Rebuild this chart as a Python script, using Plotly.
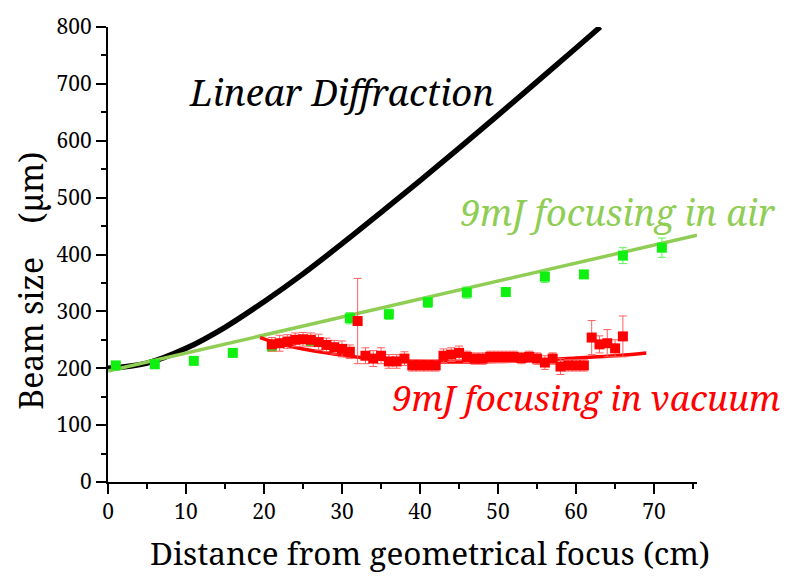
import plotly.graph_objects as go

# ---- data ----
diff_x = [0, 5, 10, 15, 20, 25, 30, 35, 40, 45, 50, 55, 60, 63.1]
diff_y = [200, 209, 235, 272, 317, 366, 419, 474, 530, 587, 645, 704, 763, 800]

air_x = [1, 6, 11, 16, 21, 26, 31, 36, 41, 46, 51, 56, 61, 66, 71]
air_y = [205, 207, 213, 227, 238, 248, 288, 295, 316, 333, 334, 361, 365, 398, 412]
air_err = [4, 4, 4, 4, 6, 7, 10, 9, 9, 10, 8, 10, 7, 14, 17]

air_fit_x = [0, 75.5]
air_fit_y = [195, 434]

vac_x = list(range(21, 67))
vac_y = [242, 244, 247, 250, 251, 250, 246, 241, 237, 234, 229, 283, 222, 217,
         222, 212, 212, 217, 205, 205, 205, 205, 222, 224, 227, 220, 217, 217,
         220, 220, 220, 220, 218, 220, 217, 210, 217, 203, 205, 205, 205, 254,
         242, 244, 235, 256]
vac_err = [12, 14, 12, 12, 12, 12, 14, 12, 12, 14, 12, 75, 14, 14,
           14, 12, 12, 12, 10, 10, 10, 10, 12, 12, 12, 10, 10, 10,
           10, 10, 10, 10, 10, 10, 10, 12, 10, 14, 10, 10, 10, 30,
           15, 24, 15, 36]

vac_fit_x = [19.5, 22, 25, 28, 31, 35, 40, 45, 50, 55, 60, 65, 69]
vac_fit_y = [254, 243, 234, 227, 221, 216, 212, 211, 212, 214, 218, 222, 227]

x_ticks = [0, 10, 20, 30, 40, 50, 60, 70]
y_ticks = [0, 100, 200, 300, 400, 500, 600, 700, 800]

GREEN_LINE = "#8fcd55"
GREEN_MK = "#10f010"
RED = "#ff0000"
FAM = "Noto Serif"


def sf(size, color="black", italic=False):
    d = {"family": FAM, "size": size, "color": color}
    if italic:
        d["style"] = "italic"
    return d


fig = go.Figure()

fig.add_trace(go.Scatter(x=diff_x, y=diff_y, mode="lines", line=dict(color="black", width=5.5, shape="spline"),
                         showlegend=False))
fig.add_trace(go.Scatter(x=air_fit_x, y=air_fit_y, mode="lines", line=dict(color=GREEN_LINE, width=3.5),
                         showlegend=False))
fig.add_trace(go.Scatter(x=air_x, y=air_y, mode="markers",
                         marker=dict(symbol="square", size=10, color=GREEN_MK),
                         error_y=dict(type="data", array=air_err, color="#5cf55c", thickness=1, width=4),
                         showlegend=False))
fig.add_trace(go.Scatter(x=vac_fit_x, y=vac_fit_y, mode="lines", line=dict(color=RED, width=3.5, shape="spline"),
                         showlegend=False))
fig.add_trace(go.Scatter(x=vac_x, y=vac_y, mode="markers",
                         marker=dict(symbol="square", size=10, color=RED),
                         error_y=dict(type="data", array=vac_err, color="#ff6060", thickness=1, width=4),
                         showlegend=False))

fig.update_layout(
    width=791, height=577,
    margin=dict(l=108, r=94, t=13, b=95),
    plot_bgcolor="white", paper_bgcolor="white",
    font=sf(20),
    xaxis=dict(range=[0, 75.5], tickvals=x_ticks, ticktext=[str(v) for v in x_ticks],
               showline=True, linecolor="black", linewidth=2, ticks="outside", ticklen=10,
               tickwidth=2, tickcolor="black", showgrid=False, zeroline=False,
               tickfont=sf(21), ticklabeloverflow="allow",
               minor=dict(dtick=5, tick0=0, ticks="outside", ticklen=5, tickwidth=2, tickcolor="black")),
    yaxis=dict(range=[0, 800], tickvals=y_ticks, ticktext=[str(v) for v in y_ticks],
               showline=True, linecolor="black", linewidth=2, ticks="outside", ticklen=10,
               tickwidth=2, tickcolor="black", showgrid=False, zeroline=False,
               tickfont=sf(21), ticklabeloverflow="allow",
               minor=dict(dtick=50, tick0=0, ticks="outside", ticklen=5, tickwidth=2, tickcolor="black")),
    annotations=[
        dict(text="Linear Diffraction", x=29.9, y=686, xref="x", yref="y", showarrow=False,
             font=sf(36.5, italic=True), xanchor="center", yanchor="middle"),
        dict(text="9mJ focusing in air", x=65.4, y=473, xref="x", yref="y", showarrow=False,
             font=sf(36, GREEN_LINE, italic=True), xanchor="center", yanchor="middle"),
        dict(text="9mJ focusing in vacuum", x=61.3, y=148, xref="x", yref="y", showarrow=False,
             font=sf(35, RED, italic=True), xanchor="center", yanchor="middle"),
        dict(text="Distance from geometrical focus (cm)", x=0.547, y=-0.156, xref="paper", yref="paper",
             showarrow=False, font=sf(31.5), xanchor="center", yanchor="middle"),
        dict(text="Beam size\u00a0\u00a0\u00a0 (\u00b5m)", x=-0.132, y=0.443, xref="paper", yref="paper",
             showarrow=False, textangle=-90, font=sf(32), xanchor="center", yanchor="middle"),
    ],
)

fig.write_html("out.html")
